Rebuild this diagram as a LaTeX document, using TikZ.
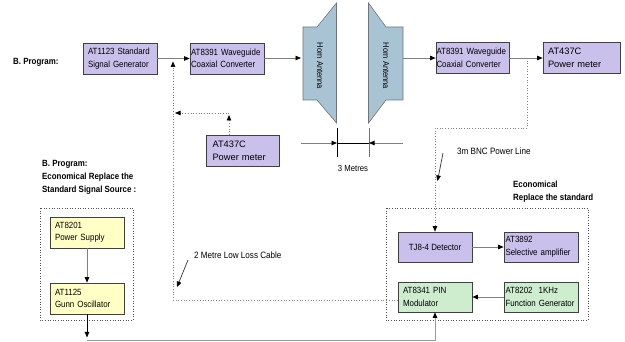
\documentclass[tikz,border=0pt]{standalone}
\usepackage{fontspec}
\setmainfont{Liberation Sans}
\newfontfamily\cond{Liberation Sans}[FakeStretch=0.88]
\usetikzlibrary{arrows.meta}
\definecolor{purp}{RGB}{202,192,236}
\definecolor{yel}{RGB}{255,255,198}
\definecolor{grn}{RGB}{206,236,206}
\definecolor{horn}{RGB}{168,196,212}
\definecolor{lgrey}{RGB}{128,128,128}
\tikzset{
  box/.style={draw=black!75, line width=0.7pt, minimum height=31pt, inner ysep=0pt, inner xsep=0pt, align=left, font=\cond\fontsize{9}{12.5}\selectfont},
  pbox/.style={box, fill=purp},
  ybox/.style={box, fill=yel},
  gbox/.style={box, fill=grn},
  big/.style={font=\fontsize{9.3}{13}\selectfont},
  conn/.style={draw=lgrey, line width=0.8pt, -{Triangle[length=5.5pt,width=4.5pt,color=black]}},
  dconn/.style={draw=lgrey, line width=0.7pt, dotted, -{Triangle[length=5.5pt,width=4.5pt,color=black]}},
  dline/.style={draw=lgrey, line width=0.7pt, dotted},
  dbox/.style={draw=black!70, line width=0.6pt, dotted},
  lab/.style={font=\cond\fontsize{9.2}{12}\selectfont, anchor=west, inner sep=0pt},
  blab/.style={font=\cond\bfseries\fontsize{9}{13}\selectfont, anchor=west, inner sep=0pt, align=left},
  hornst/.style={fill=horn, draw=black!55, line width=0.6pt},
}
\begin{document}
\begin{tikzpicture}[x=1pt,y=-1pt]
\useasboundingbox (0,0) rectangle (625,342);
% dotted group boxes
\draw[dbox] (40,208) rectangle (133,320);
\draw[dbox] (386,208) rectangle (588,320);
% top row
\node[pbox, minimum width=74pt, text width=64pt] (sg) at (120,58.5) {AT1123 Standard\\Signal Generator};
\node[pbox, minimum width=74pt, text width=72pt] (wc1) at (227,58.5) {AT8391 Waveguide\\Coaxial Converter};
\node[pbox, big, minimum width=73pt, text width=60pt] (pm1) at (242.5,150.5) {AT437C\\Power meter};
\node[pbox, minimum width=73pt, text width=72pt] (wc2) at (472.5,58) {AT8391 Waveguide\\Coaxial Converter};
\node[pbox, big, minimum width=77pt, text width=67pt] (pm2) at (581.5,58) {AT437C\\Power meter};
% left group
\node[ybox, minimum width=74pt, text width=64pt] (ps) at (87,232.5) {AT8201\\Power Supply};
\node[ybox, minimum width=74pt, text width=64pt] (gunn) at (87,298.5) {AT1125\\Gunn Oscillator};
% right group
\node[pbox, minimum width=74pt, minimum height=30pt, align=center] (det) at (435,247) {TJ8-4 Detector};
\node[pbox, minimum width=74pt, minimum height=30pt, text width=71pt] (amp) at (541,247) {AT3892\\Selective amplifier};
\node[gbox, minimum width=74pt, minimum height=30pt, text width=64pt] (mod) at (435,297) {AT8341 PIN\\Modulator};
\node[gbox, minimum width=74pt, minimum height=30pt, text width=71pt] (fg) at (541,297) {AT8202\ \ 1KHz\\Function Generator};
% horn antennas
\draw[hornst] (303,27) -- (317,27) -- (336.5,3) -- (336.5,123) -- (317,100) -- (303,100) -- cycle;
\draw[hornst] (368.5,3) -- (386,27) -- (403,27) -- (403,100) -- (386,100) -- (368.5,123) -- cycle;
\node[font=\cond\fontsize{8.5}{9}\selectfont, rotate=-90, inner sep=0pt] (h1) at (320,66) {Horn Antenna};
\node[font=\cond\fontsize{8.5}{9}\selectfont, rotate=-90, inner sep=0pt] (h2) at (386,66) {Horn Antenna};
\coordinate (antLin) at (301,58);
\coordinate (antRout) at (403,58);
% labels
\node[blab] (bp1) at (13,62) {B. Program:};
\node[blab, anchor=north west] (bp2) at (42,160.5) {B. Program:\\Economical Replace the\\Standard Signal Source :};
\node[blab, anchor=north west] (eco) at (513,180.5) {Economical\\Replace the standard};
% main connectors
\draw[conn] (sg.east) -- (wc1.west);
\draw[conn] (wc1.east |- antLin) -- (antLin);
\draw[conn] (antRout) -- (wc2.west |- antRout);
\draw[conn] (wc2.east) -- (pm2.west);
\draw[conn] (det.east) -- (amp.west);
\draw[conn] (fg.west) -- (mod.east);
\draw[conn] (ps.south) -- (gunn.north);
\coordinate (gb) at (87,337.5);
\coordinate (gl) at (87,340);
\draw[conn, draw=black] (gunn.south) -- (gb);
\draw[draw=black!40, line width=0.8pt, -{Triangle[length=5.5pt,width=4.5pt,color=black]}] (gl) -| (mod.south);
% 3 metres dimension
\coordinate (d1t) at (337,128); \coordinate (d1b) at (337,157);
\coordinate (d2t) at (369,128); \coordinate (d2b) at (369,157);
\draw[black, line width=0.8pt] (d1t) -- (d1b);
\draw[black!55, line width=0.8pt] (d2t) -- (d2b);
\draw[black, line width=0.8pt] (337,143) -- (369,143);
\coordinate (dl) at (301,143); \coordinate (dr) at (403,143);
\draw[conn] (dl) -- (337,143);
\draw[conn] (dr) -- (369,143);
\node[font=\cond\fontsize{8.8}{10}\selectfont, inner sep=0pt] (tm) at (353,168) {3 Metres};
% BNC power line
\coordinate (bnc0) at (527,58);
\draw[dconn] (bnc0) -- (527,128) -- (435,128) -- (det.north);
\node[lab] (bnclab) at (457,151) {3m BNC Power Line};
\coordinate (bp) at (443,153);
\coordinate (bq) at (437.5,181);
\draw[line width=0.7pt, black!80, -{Triangle[length=5.5pt,width=4.5pt,color=black]}] (bp) -- (bq);
% 2 metre low loss cable
\coordinate (c1) at (173,300);
\coordinate (c2) at (173,61.5);
\draw[dconn] (mod.west |- c1) -- (c1) -- (c2);
\node[lab] (cablab) at (194,255) {2 Metre Low Loss Cable};
\coordinate (cp) at (188,260);
\coordinate (cq) at (177,287);
\draw[line width=0.7pt, black!80, -{Triangle[length=5.5pt,width=4.5pt,color=black]}] (cp) -- (cq);
% power meter feed
\coordinate (pu) at (229,115);
\coordinate (ph) at (229,113);
\coordinate (pl) at (175,113);
\draw[dconn] (pm1.north -| pu) -- (pu);
\draw[dconn] (ph) -- (pl);
\end{tikzpicture}
\end{document}
